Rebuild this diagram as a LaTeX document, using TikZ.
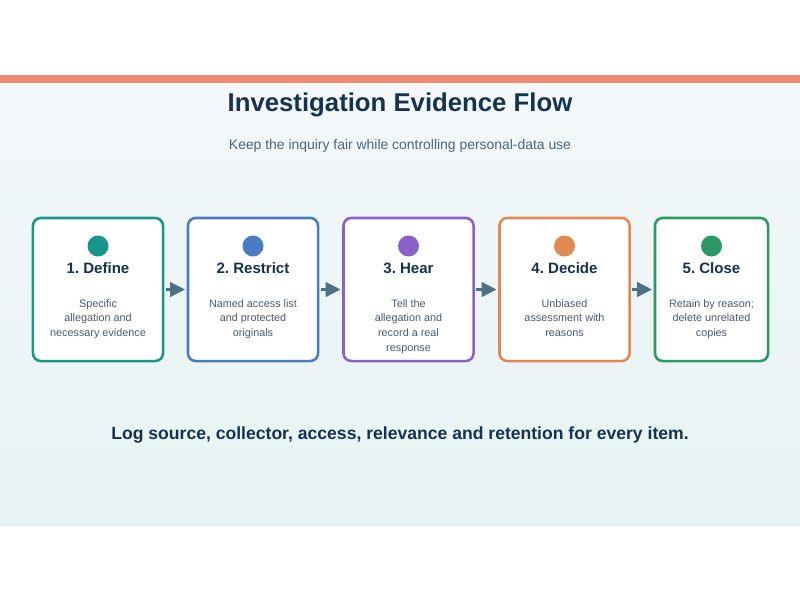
\documentclass[tikz,border=0pt]{standalone}
\usepackage{fontspec}
\setmainfont{Liberation Sans}
\usetikzlibrary{arrows.meta}
\frenchspacing
\definecolor{navy}{HTML}{16324F}
\definecolor{subgray}{HTML}{4A6678}
\definecolor{descgray}{HTML}{4B5B6B}
\definecolor{barc}{HTML}{EE8A72}
\definecolor{bgtop}{HTML}{F4F8FB}
\definecolor{bgbot}{HTML}{E6F3F2}
\definecolor{arrowc}{HTML}{4D7085}
\definecolor{cteal}{HTML}{1A9688}
\definecolor{cblue}{HTML}{4A7CC4}
\definecolor{cpurple}{HTML}{8B60C8}
\definecolor{corange}{HTML}{E08A50}
\definecolor{cgreen}{HTML}{2A9A62}
\begin{document}
\begin{tikzpicture}[x=0.025cm, y=-0.025cm,
  stepbox/.style={draw=#1, line width=1.8pt, rounded corners=5.5pt, fill=white, minimum width=3.25cm, minimum height=3.575cm},
  dot/.style={circle, fill=#1, inner sep=0pt, minimum size=0.525cm},
  steptitle/.style={font=\fontsize{10.7}{12}\selectfont\bfseries, text=navy, inner sep=0pt},
  desc/.style={anchor=north, align=center, inner sep=0pt, font=\fontsize{7.7}{10.4}\selectfont, text=descgray},
  edge/.style={-{Triangle[length=3.8mm, width=3.5mm]}, line width=2.8pt, arrowc, shorten <=1pt, shorten >=1pt}]
  \useasboundingbox (0,0) rectangle (800,600);
  \fill[white] (0,0) rectangle (800,600);
  \shade[top color=bgtop, bottom color=bgbot] (0,82) rectangle (800,525);
  \fill[barc] (0,75) rectangle (800,82.5);
  \node[font=\fontsize{18.3}{22}\selectfont\bfseries, text=navy] (title) at (400,105) {Investigation Evidence Flow};
  \node[font=\fontsize{9.9}{12}\selectfont, text=subgray] (subtitle) at (400,146) {Keep the inquiry fair while controlling personal-data use};
  \node[stepbox=cteal] (define) at (98,289.5) {};
  \node[stepbox=cblue] (restrict) at (253,289.5) {};
  \node[stepbox=cpurple] (hear) at (408.5,289.5) {};
  \node[stepbox=corange] (decide) at (564.5,289.5) {};
  \node[stepbox=cgreen, minimum width=2.825cm] (close) at (711.5,289.5) {};
  \node[dot=cteal] (definedot) at (98,246) {};
  \node[dot=cblue] (restrictdot) at (253,246) {};
  \node[dot=cpurple] (heardot) at (408.5,246) {};
  \node[dot=corange] (decidedot) at (564.5,246) {};
  \node[dot=cgreen] (closedot) at (711.5,246) {};
  \node[steptitle] (definetitle) at (98,268) {1. Define};
  \node[steptitle] (restricttitle) at (253,268) {2. Restrict};
  \node[steptitle] (heartitle) at (408.5,268) {3. Hear};
  \node[steptitle] (decidetitle) at (564.5,268) {4. Decide};
  \node[steptitle] (closetitle) at (711.5,268) {5. Close};
  \node[desc] (definetext) at (98,299) {Specific\\allegation and\\necessary evidence};
  \node[desc] (restricttext) at (253,299) {Named access list\\and protected\\originals};
  \node[desc] (heartext) at (408.5,299) {Tell the\\allegation and\\record a real\\response};
  \node[desc] (decidetext) at (564.5,299) {Unbiased\\assessment with\\reasons};
  \node[desc] (closetext) at (711.5,299) {Retain by reason;\\delete unrelated\\copies};
  \draw[edge] (define) -- (restrict);
  \draw[edge] (restrict) -- (hear);
  \draw[edge] (hear) -- (decide);
  \draw[edge] (decide) -- (close);
  \node[font=\fontsize{12.5}{15}\selectfont\bfseries, text=navy] (footer) at (400,435) {Log source, collector, access, relevance and retention for every item.};
\end{tikzpicture}
\end{document}
